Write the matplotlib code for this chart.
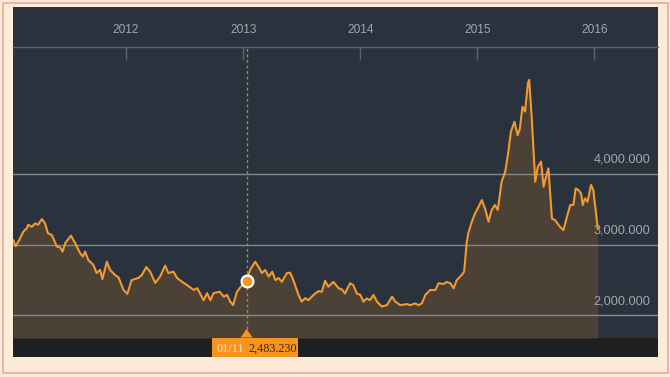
import matplotlib
matplotlib.use('Agg')
import matplotlib.pyplot as plt
import matplotlib.dates as mdates
import matplotlib.patches as mpatches
import matplotlib.transforms as mtransforms
import pandas as pd

# ---------------- data ----------------
dates = [
    '2011-01-14', '2011-01-21', '2011-02-01', '2011-02-14', '2011-02-25', '2011-03-01',
    '2011-03-13', '2011-03-23', '2011-04-01', '2011-04-13', '2011-04-23', '2011-05-02',
    '2011-05-14', '2011-05-30', '2011-06-09', '2011-06-17', '2011-06-25', '2011-07-13',
    '2011-07-26', '2011-08-10', '2011-08-19', '2011-08-26', '2011-09-05', '2011-09-21',
    '2011-10-01', '2011-10-12', '2011-10-19', '2011-11-02', '2011-11-12', '2011-11-28',
    '2011-12-08', '2011-12-24', '2012-01-05', '2012-01-18', '2012-02-08', '2012-02-19',
    '2012-03-04', '2012-03-16', '2012-04-01', '2012-04-16', '2012-05-02', '2012-05-12',
    '2012-05-28', '2012-06-08', '2012-06-24', '2012-07-09', '2012-07-30', '2012-08-10',
    '2012-08-30', '2012-09-10', '2012-09-20', '2012-09-30', '2012-10-19', '2012-11-01',
    '2012-11-11', '2012-11-21', '2012-11-30', '2012-12-12', '2012-12-28', '2013-01-11',
    '2013-01-22', '2013-02-07', '2013-02-17', '2013-02-28', '2013-03-10', '2013-03-21',
    '2013-04-01', '2013-04-11', '2013-04-21', '2013-05-01', '2013-05-17', '2013-05-27',
    '2013-06-06', '2013-06-22', '2013-07-02', '2013-07-13', '2013-07-23', '2013-08-08',
    '2013-08-24', '2013-09-03', '2013-09-13', '2013-09-23', '2013-10-09', '2013-10-25',
    '2013-11-04', '2013-11-14', '2013-11-30', '2013-12-10', '2013-12-21', '2014-01-01',
    '2014-01-11', '2014-01-21', '2014-01-31', '2014-02-11', '2014-02-22', '2014-03-09',
    '2014-03-25', '2014-04-10', '2014-04-20', '2014-05-06', '2014-05-27', '2014-06-06',
    '2014-06-21', '2014-07-02', '2014-07-12', '2014-07-23', '2014-08-07', '2014-08-23',
    '2014-09-02', '2014-09-18', '2014-09-28', '2014-10-09', '2014-10-19', '2014-10-29',
    '2014-11-13', '2014-11-21', '2014-11-29', '2014-12-04', '2014-12-15', '2014-12-25',
    '2015-01-05', '2015-01-15', '2015-01-25', '2015-02-05', '2015-02-15', '2015-02-25',
    '2015-03-06', '2015-03-18', '2015-03-29', '2015-04-08', '2015-04-16', '2015-04-27',
    '2015-05-07', '2015-05-14', '2015-05-22', '2015-05-30', '2015-06-08', '2015-06-12',
    '2015-06-20', '2015-07-01', '2015-07-09', '2015-07-19', '2015-07-27', '2015-08-01',
    '2015-08-11', '2015-08-22', '2015-09-01', '2015-09-16', '2015-09-27', '2015-10-08',
    '2015-10-18', '2015-10-28', '2015-11-04', '2015-11-12', '2015-11-21', '2015-11-26',
    '2015-12-03', '2015-12-11', '2015-12-22', '2015-12-29', '2016-01-12',
]
values = [
    3060, 2975, 3060, 3180, 3230, 3280,
    3250, 3300, 3280, 3360, 3300, 3160,
    3135, 2970, 2960, 2900, 3020, 3125,
    3020, 2880, 2830, 2900, 2780, 2710,
    2595, 2640, 2510, 2755, 2640, 2565,
    2535, 2355, 2300, 2495, 2525, 2565,
    2680, 2615, 2455, 2545, 2700, 2595,
    2615, 2525, 2470, 2425, 2355, 2380,
    2210, 2310, 2210, 2310, 2330, 2260,
    2285, 2190, 2140, 2330, 2425, 2483.23,
    2640, 2755, 2685, 2595, 2640, 2545,
    2615, 2495, 2525, 2470, 2595, 2600,
    2495, 2285, 2190, 2240, 2210, 2285,
    2340, 2330, 2485, 2400, 2470, 2380,
    2365, 2305, 2450, 2425, 2305, 2285,
    2190, 2235, 2210, 2285, 2190, 2120,
    2140, 2260, 2190, 2140, 2155, 2140,
    2165, 2140, 2165, 2285, 2355, 2355,
    2450, 2440, 2470, 2450, 2380, 2495,
    2565, 2615, 3030, 3160, 3325, 3440,
    3535, 3630, 3515, 3325, 3490, 3560,
    3490, 3890, 4030, 4315, 4600, 4740,
    4550, 4645, 4955, 4885, 5285, 5335,
    4790, 3890, 4105, 4175, 3820, 3915,
    4080, 3370, 3345, 3250, 3205, 3395,
    3560, 3560, 3795, 3775, 3725, 3560,
    3655, 3605, 3845, 3775, 3230,
]
year_ticks = ['2012-01-01', '2013-01-01', '2014-01-01', '2015-01-01', '2016-01-01']
year_labels = ['2012', '2013', '2014', '2015', '2016']
y_ticks = [2000, 3000, 4000]
y_labels = ['2,000.000', '3,000.000', '4,000.000']
marker_date = '2013-01-11'
marker_value = 2483.230
marker_label_date = '01/11'
marker_label_value = '2,483.230'
x_range = ['2011-01-13', '2016-07-18']
y_range = [1674, 5801]

# ---------------- style ----------------
W, H = 670, 377
PANEL = '#29323d'
FILL = '#4b4137'
ORANGE = '#f39a2e'
TXT = '#a2a7ac'
SEP = '#59636d'
SANS = ['Liberation Sans', 'DejaVu Sans']
SERIF = ['Liberation Serif', 'DejaVu Serif']

fig = plt.figure(figsize=(W / 100, H / 100), dpi=100)
fig.patch.set_facecolor('#fbebd7')


def px_rect(x0, y0, x1, y1):
    return [x0 / W, 1 - y1 / H, (x1 - x0) / W, (y1 - y0) / H]


# outer pink border
fig.add_artist(mpatches.Rectangle((2.5 / W, 4 / H), 665.5 / W, 370.5 / H,
                                  transform=fig.transFigure, fill=False,
                                  edgecolor='#e6a9a2', lw=1.2, zorder=-2))
# top band + bottom strip (behind the axes so tick labels stay visible)
r = px_rect(13, 7, 658, 47)
fig.add_artist(mpatches.Rectangle((r[0], r[1]), r[2], r[3], transform=fig.transFigure,
                                  facecolor=PANEL, edgecolor='none', zorder=-1))
r = px_rect(13, 338, 658, 357)
fig.add_artist(mpatches.Rectangle((r[0], r[1]), r[2], r[3], transform=fig.transFigure,
                                  facecolor='#1f1f1f', edgecolor='none', zorder=-1))

ax = fig.add_axes(px_rect(13, 47, 658, 338))
ax.set_facecolor(PANEL)

d = pd.to_datetime(dates)
ax.set_xlim(pd.Timestamp(x_range[0]), pd.Timestamp(x_range[1]))
ax.set_ylim(*y_range)

ax.fill_between(d, values, y_range[0], color=FILL, lw=0, zorder=1)
for yv in y_ticks:
    ax.axhline(yv, color='#86898c', lw=1.0, zorder=1.5)
ax.plot(d, values, color=ORANGE, lw=1.5, zorder=3, solid_joinstyle='round')

for s in ['left', 'right', 'bottom']:
    ax.spines[s].set_visible(False)
ax.spines['top'].set_color(SEP)
ax.spines['top'].set_linewidth(1.0)

ax.xaxis.tick_top()
ax.set_xticks(pd.to_datetime(year_ticks))
ax.set_xticklabels(year_labels)
ax.tick_params(axis='x', direction='in', length=9.5, width=1, color=SEP,
               pad=8, labelcolor=TXT, labelsize=8.6)
for t in ax.get_xticklabels():
    t.set_family(SANS)
ax.set_yticks([])

# y labels, right-aligned above gridlines
ytrans = mtransforms.blended_transform_factory(ax.transAxes, ax.transData) + \
    mtransforms.ScaledTranslation(0, 14 / 100, fig.dpi_scale_trans)
for yv, lab in zip(y_ticks, y_labels):
    ax.text(0.9876, yv, lab, transform=ytrans, ha='right', va='center',
            color=TXT, fontsize=9.2, family=SANS)

# crosshair + marker
md = pd.Timestamp(marker_date)
ax.axvline(md, ymin=9 / 291, ymax=1, color='#b08a48', lw=1.0, ls=(0, (2, 2)), zorder=4)
ax.plot([md], [marker_value], 'o', ms=8.5, mfc='#f7941d', mec='white', mew=1.6, zorder=5)

# tooltip
mx = ax.transData.transform((mdates.date2num(md), marker_value))[0]
ident = mtransforms.IdentityTransform()
fig.add_artist(mpatches.Rectangle((mx - 34.5, H - 357), 86, 19.5, transform=ident,
                                  facecolor='#f7941d', edgecolor='none'))
fig.add_artist(mpatches.Polygon([(mx - 6, H - 337.5), (mx + 6, H - 337.5), (mx, H - 329)],
                                closed=True, transform=ident,
                                facecolor='#f7941d', edgecolor='none'))
fig.text(mx - 16, H - 348.5, marker_label_date, transform=ident, ha='center', va='center',
         color='#fde3bd', fontsize=8.8, family=SERIF)
fig.text(mx + 26, H - 348.5, marker_label_value, transform=ident, ha='center', va='center',
         color='#3b2816', fontsize=8.8, family=SERIF)

fig.savefig('out.png', dpi=100, facecolor=fig.get_facecolor())
